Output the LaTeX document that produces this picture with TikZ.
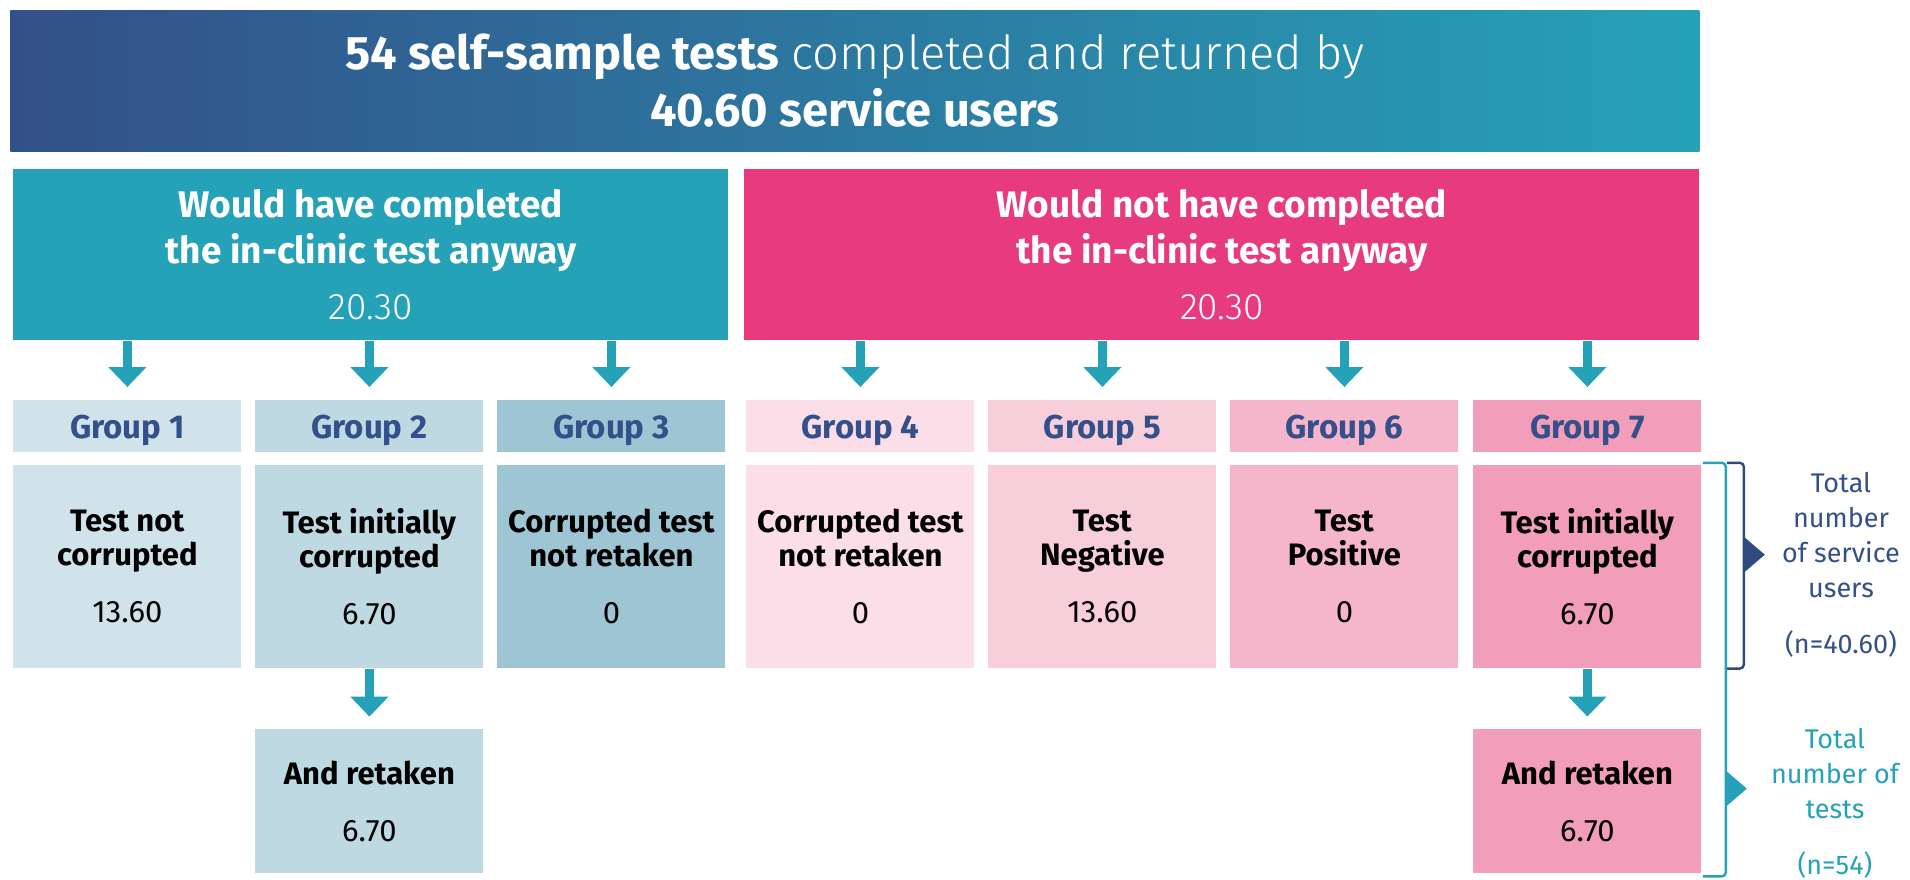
\documentclass[tikz,border=0pt]{standalone}
\usepackage{fontspec}
\setmainfont{Fira Sans}
\newfontfamily\lightfont{Fira Sans Light}
\usetikzlibrary{positioning,calc,arrows.meta}

\definecolor{navy}{HTML}{33508A}
\definecolor{tealc}{HTML}{25A2B7}
\definecolor{pinkc}{HTML}{E83A7E}
\definecolor{gone}{HTML}{D0E3EA}
\definecolor{gtwo}{HTML}{BFD9E2}
\definecolor{gthree}{HTML}{9DC5D3}
\definecolor{gfour}{HTML}{FBDEE7}
\definecolor{gfive}{HTML}{F8CEDB}
\definecolor{gsix}{HTML}{F5B6CB}
\definecolor{gseven}{HTML}{F29DB9}
\definecolor{bracenavy}{HTML}{2F4A7E}

\tikzset{
    grouphead/.style={anchor=north west, inner sep=0pt, minimum width=114pt, minimum height=26pt,
        text depth=0pt, text=navy, font=\fontsize{16.5}{18}\selectfont\bfseries},
    groupbox/.style={inner sep=0pt, minimum width=114pt, minimum height=101.5pt, align=center,
        font=\fontsize{15.5}{17}\selectfont},
    retakebox/.style={groupbox, minimum height=72pt},
    header/.style={anchor=north west, inner sep=0pt, minimum height=85.5pt, align=center,
        text=white, font=\fontsize{18.5}{23}\selectfont\bfseries},
    dnarrow/.style={draw=tealc, line width=4.5pt, -{Triangle[width=18.5pt,length=10pt]}},
    totals/.style={align=center, font=\fontsize{13.5}{17.5}\selectfont}
}

\begin{document}
\begin{tikzpicture}[x=0.5pt,y=-0.5pt]
    \useasboundingbox (0,0) rectangle (1910,879);

    % Banner
    \node[anchor=north west, inner sep=0pt, minimum width=844.5pt, minimum height=70.5pt,
        left color=navy, right color=tealc, text=white, align=center,
        font=\fontsize{23.5}{28.5}\selectfont] (banner) at (10,10)
        {\textbf{54 self-sample tests} {\lightfont completed and returned by}\\\textbf{40.60 service users}};

    % Would / would not have completed
    \node[header, fill=tealc, minimum width=357.5pt] (hdrL) at (13,169)
        {Would have completed\\the in-clinic test anyway\\[5pt]{\lightfont\mdseries 20.30}};
    \node[header, fill=pinkc, minimum width=477.5pt] (hdrR) at (744,169)
        {Would not have completed\\the in-clinic test anyway\\[5pt]{\lightfont\mdseries 20.30}};

    % Group headings
    \foreach \i/\xpos/\shade in {1/13/gone, 2/255/gtwo, 3/497/gthree, 4/746/gfour,
                                 5/988/gfive, 6/1230/gsix, 7/1473/gseven}
        \node[grouphead, fill=\shade] (gh\i) at (\xpos,400) {Group \i};

    % Group contents
    \node[groupbox, fill=gone, below=6pt of gh1] (gb1) {\textbf{Test not}\\\textbf{corrupted}\\[11.5pt]13.60};
    \node[groupbox, fill=gtwo, below=6pt of gh2] (gb2) {\textbf{Test initially}\\\textbf{corrupted}\\[11.5pt]6.70};
    \node[groupbox, fill=gthree, below=6pt of gh3] (gb3) {\textbf{Corrupted test}\\\textbf{not retaken}\\[11.5pt]0};
    \node[groupbox, fill=gfour, below=6pt of gh4] (gb4) {\textbf{Corrupted test}\\\textbf{not retaken}\\[11.5pt]0};
    \node[groupbox, fill=gfive, below=6pt of gh5] (gb5) {\textbf{Test}\\\textbf{Negative}\\[11.5pt]13.60};
    \node[groupbox, fill=gsix, below=6pt of gh6] (gb6) {\textbf{Test}\\\textbf{Positive}\\[11.5pt]0};
    \node[groupbox, fill=gseven, below=6pt of gh7] (gb7) {\textbf{Test initially}\\\textbf{corrupted}\\[11.5pt]6.70};

    \foreach \i in {1,2,3}
        \draw[dnarrow] (gh\i.north |- hdrL.south) -- ([yshift=6.5pt]gh\i.north);
    \foreach \i in {4,5,6,7}
        \draw[dnarrow] (gh\i.north |- hdrR.south) -- ([yshift=6.5pt]gh\i.north);

    % Retaken tests
    \node[retakebox, fill=gtwo, below=30pt of gb2] (rt2) {\textbf{And retaken}\\[11.5pt]6.70};
    \node[retakebox, fill=gseven, below=30pt of gb7] (rt7) {\textbf{And retaken}\\[11.5pt]6.70};
    \draw[dnarrow, shorten >=6pt] (gb2) -- (rt2);
    \draw[dnarrow, shorten >=6pt] (gb7) -- (rt7);

    % Brackets on the right
    \draw[bracenavy, line width=1.2pt, rounded corners=2pt]
        ($(gb7.north east)+(25,-2)$) -- ++(17,0) -- ($(gb7.south east)+(42,0)$) -- ++(-17,0);
    \fill[bracenavy] ($(gb7.east)+(42,-30)$) -- ++(21,18) -- ++(-21,18) -- cycle;
    \draw[tealc, line width=1.2pt, rounded corners=2pt]
        ($(gb7.north east)+(1,-2)$) -- ++(23,0) -- ($(rt7.south east)+(24,3)$) -- ++(-23,0);
    \fill[tealc] ($(rt7.north east)+(24,42)$) -- ++(21,18) -- ++(-21,18) -- cycle;

    \node[totals, text=navy] (users) at (1841,565)
        {Total\\number\\of service\\users\\[10.5pt](n=40.60)};
    \node[totals, text=tealc] (tests) at (1835,803)
        {Total\\number of\\tests\\[10.5pt](n=54)};
\end{tikzpicture}
\end{document}
